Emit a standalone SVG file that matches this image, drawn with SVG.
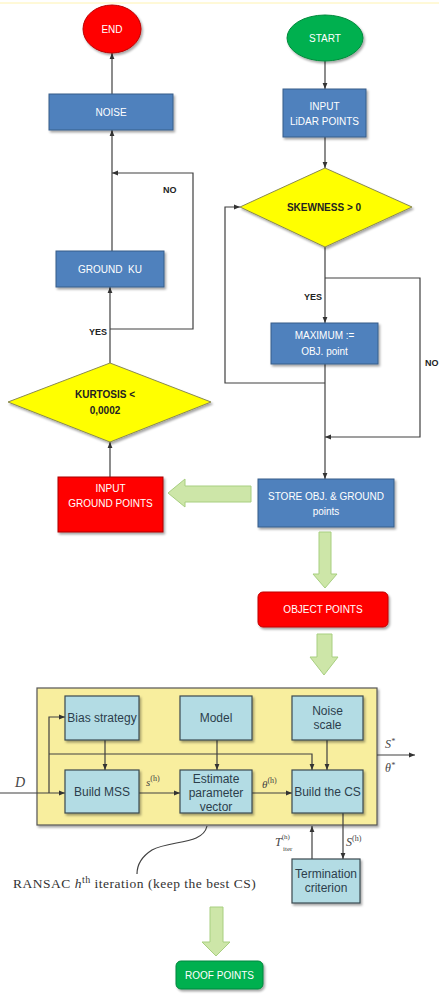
<svg xmlns="http://www.w3.org/2000/svg" width="439" height="994" viewBox="0 0 439 994">
<defs>
<marker id="ah" viewBox="0 0 10 10" refX="10" refY="5" markerWidth="6" markerHeight="6" orient="auto-start-reverse" markerUnits="userSpaceOnUse">
<path d="M0,1 L10,5 L0,9 z" fill="#333"/>
</marker>
<filter id="sh" x="-10%" y="-10%" width="130%" height="140%">
<feDropShadow dx="1.5" dy="2" stdDeviation="1.2" flood-color="#000" flood-opacity="0.35"/>
</filter>
<style>
.blue{fill:#4F81BD;stroke:#385D8A;stroke-width:1;filter:url(#sh)}
.dia{fill:#FFFF00;stroke:#8a8a50;stroke-width:1;filter:url(#sh)}
.wt{font-family:"Liberation Sans",Arial,sans-serif;font-size:10px;fill:#fff;text-anchor:middle}
.bk{font-family:"Liberation Sans",Arial,sans-serif;font-size:10px;font-weight:bold;fill:#222;text-anchor:middle}
.lbl{font-family:"Liberation Sans",Arial,sans-serif;font-size:9px;font-weight:bold;fill:#222}
.con{fill:none;stroke:#404040;stroke-width:1.2}
.ga{fill:#CDE6A8;stroke:#A8CF80;stroke-width:1}
.lb{fill:#B3DCE4;stroke:#3a4a50;stroke-width:1.2;filter:url(#sh)}
.lt{font-family:"Liberation Sans",Arial,sans-serif;font-size:12px;fill:#2c3e4c;text-anchor:middle}
.math{font-family:"Liberation Serif","Times New Roman",serif;font-style:italic;fill:#444}
</style>
</defs>
<rect width="439" height="994" fill="#fff"/>
<line x1="0" y1="3" x2="439" y2="3" stroke="#fff3b0" stroke-width="1"/>

<g id="connectors">
<path class="con" d="M325,61 L325,89" marker-end="url(#ah)"/>
<path class="con" d="M325,137 L325,168" marker-end="url(#ah)"/>
<path class="con" d="M325,247 L325,323" marker-end="url(#ah)"/>
<path class="con" d="M325,278 L420,278 L420,437 L325,437" marker-end="url(#ah)"/>
<path class="con" d="M325,364 L325,479" marker-end="url(#ah)"/>
<path class="con" d="M325,383 L225,383 L225,207 L240,207" marker-end="url(#ah)"/>
<path class="con" d="M110,477 L110,442" marker-end="url(#ah)"/>
<path class="con" d="M110,363 L110,287" marker-end="url(#ah)"/>
<path class="con" d="M110,329 L193,329 L193,173 L112,173" marker-end="url(#ah)"/>
<path class="con" d="M112,251 L112,130" marker-end="url(#ah)"/>
<path class="con" d="M112,94 L112,53" marker-end="url(#ah)"/>
<polygon class="ga" points="168,493 185,479 185,486 251,486 251,502 185,502 185,507"/>
<polygon class="ga" points="319,532 331,532 331,574 337,574 325,588 313,574 319,574"/>
<polygon class="ga" points="317,634 332,634 332,657 338,657 324,675 310,657 317,657"/>
<polygon class="ga" points="210,907 223,907 223,942 230,942 216,956 202,942 210,942"/>
</g>

<g id="end"><ellipse cx="112" cy="29" rx="29" ry="24" fill="#FF0000" stroke="#b00" filter="url(#sh)"/><text class="wt" x="112" y="33">END</text></g>
<g id="start"><ellipse cx="325" cy="38" rx="38" ry="23" fill="#00B050" stroke="#008a3c" filter="url(#sh)"/><text class="wt" x="325" y="42">START</text></g>
<g id="input-lidar"><rect class="blue" x="283" y="89" width="83" height="48"/><text class="wt" x="324.5" y="110">INPUT</text><text class="wt" x="324.5" y="125">LiDAR POINTS</text></g>
<g id="noise"><rect class="blue" x="49" y="94" width="124" height="36"/><text class="wt" x="111" y="116">NOISE</text></g>
<g id="skewness"><polygon class="dia" points="325,168 412,207 325,247 240,207"/><text class="bk" x="324" y="211">SKEWNESS &gt; 0</text></g>
<g id="ground-ku"><rect class="blue" x="56" y="251" width="108" height="36"/><text class="wt" x="110" y="273" xml:space="preserve">GROUND  KU</text></g>
<g id="maximum"><rect class="blue" x="271" y="323" width="107" height="41"/><text class="wt" x="324.5" y="339">MAXIMUM :=</text><text class="wt" x="324.5" y="355">OBJ. point</text></g>
<g id="kurtosis"><polygon class="dia" points="110,363 211,402 110,442 8,402"/><text class="bk" x="105" y="398" font-size="9">KURTOSIS &lt;</text><text class="bk" x="105" y="414" font-size="9">0,0002</text></g>
<g id="input-ground"><rect x="58" y="477" width="105" height="55" fill="#FF0000" stroke="#a00" filter="url(#sh)"/><text class="wt" x="110.5" y="492">INPUT</text><text class="wt" x="110.5" y="507">GROUND POINTS</text></g>
<g id="store"><rect class="blue" x="258" y="479" width="136" height="48"/><text class="wt" x="326" y="500">STORE OBJ. &amp; GROUND</text><text class="wt" x="326" y="515">points</text></g>
<g id="object-points"><rect x="258" y="592" width="130" height="35" rx="5" fill="#FF0000" stroke="#c00000" filter="url(#sh)"/><text class="wt" x="323" y="613">OBJECT POINTS</text></g>

<g id="labels">
<text class="lbl" x="163" y="193">NO</text>
<text class="lbl" x="89" y="335">YES</text>
<text class="lbl" x="304" y="300">YES</text>
<text class="lbl" x="425" y="366">NO</text>
</g>

<g id="ransac">
<rect x="37" y="688" width="340" height="137" fill="#F8EE9E" stroke="#555" stroke-width="1.2" filter="url(#sh)"/>
<g id="ransac-connectors">
<path class="con" d="M0,793 L65,793" marker-end="url(#ah)"/>
<path class="con" d="M49,793 L49,717 L65,717" marker-end="url(#ah)"/>
<path class="con" d="M49,754 L312,754 L312,770" marker-end="url(#ah)"/>
<path class="con" d="M105,740 L105,770" marker-end="url(#ah)"/>
<path class="con" d="M217,740 L217,770" marker-end="url(#ah)"/>
<path class="con" d="M327,740 L327,770" marker-end="url(#ah)"/>
<path class="con" d="M139,793 L180,793" marker-end="url(#ah)"/>
<path class="con" d="M252,793 L292,793" marker-end="url(#ah)"/>
<path class="con" d="M377,755 L415,755" marker-end="url(#ah)"/>
<path class="con" d="M343,813 L343,859" marker-end="url(#ah)"/>
<path class="con" d="M312,859 L312,826" marker-end="url(#ah)"/>
<path class="con" d="M207,826 C203,845 170,840 152,850 C141,857 137,866 137,874"/>
</g>
<g id="bias"><rect class="lb" x="65" y="696" width="74" height="44"/><text class="lt" x="102" y="722">Bias strategy</text></g>
<g id="model"><rect class="lb" x="180" y="696" width="72" height="44"/><text class="lt" x="216" y="722">Model</text></g>
<g id="noise-scale"><rect class="lb" x="292" y="696" width="71" height="44"/><text class="lt" x="327.5" y="715">Noise</text><text class="lt" x="327.5" y="729">scale</text></g>
<g id="build-mss"><rect class="lb" x="65" y="770" width="74" height="43"/><text class="lt" x="102" y="796">Build MSS</text></g>
<g id="estimate"><rect class="lb" x="180" y="770" width="72" height="43"/><text class="lt" x="216" y="783">Estimate</text><text class="lt" x="216" y="797">parameter</text><text class="lt" x="216" y="811">vector</text></g>
<g id="build-cs"><rect class="lb" x="292" y="770" width="71" height="43"/><text class="lt" x="327.5" y="796">Build the CS</text></g>
<g id="termination"><rect class="lb" x="292" y="859" width="68" height="44"/><text class="lt" x="326" y="878">Termination</text><text class="lt" x="326" y="892">criterion</text></g>
<g id="math-labels">
<text class="math" x="15" y="787" font-size="14">D</text>
<text class="math" x="146" y="786" font-size="11">s<tspan font-size="8" font-style="normal" dy="-5">(h)</tspan></text>
<text class="math" x="262" y="788" font-size="11">θ<tspan font-size="8" font-style="normal" dy="-5">(h)</tspan></text>
<text class="math" x="385" y="748" font-size="12">S<tspan font-size="8" dy="-4">*</tspan></text>
<text class="math" x="385" y="772" font-size="12">θ<tspan font-size="8" dy="-4">*</tspan></text>
<text class="math" x="275" y="846" font-size="12">T<tspan font-size="7" font-style="normal" dy="-7">(h)</tspan><tspan font-size="7" font-style="normal" x="283" y="851">iter</tspan></text>
<text class="math" x="346" y="846" font-size="12">S<tspan font-size="8" font-style="normal" dy="-5">(h)</tspan></text>
</g>
<text id="ransac-caption" x="13" y="888" font-family="'Liberation Serif','Times New Roman',serif" font-size="13.5" letter-spacing="0.5" fill="#333">RANSAC <tspan font-style="italic">h</tspan><tspan font-size="10" dy="-5">th</tspan><tspan dy="5"> iteration (keep the best CS)</tspan></text>
</g>

<g id="roof-points"><rect x="176" y="961" width="87" height="28" rx="5" fill="#00B050" stroke="#00863c" filter="url(#sh)"/><text class="wt" x="219.5" y="979">ROOF POINTS</text></g>
</svg>
